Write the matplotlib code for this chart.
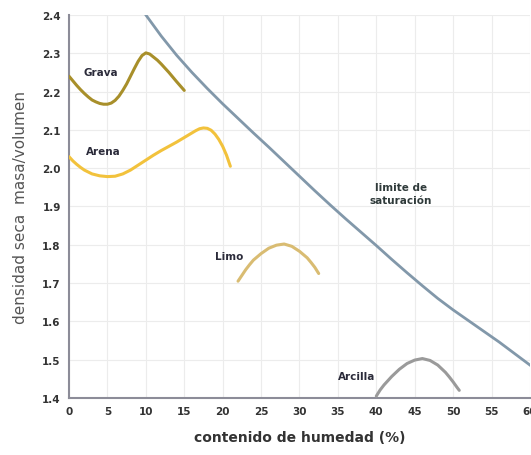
import matplotlib
matplotlib.use("Agg")
import matplotlib.pyplot as plt

# Curvas de compactacion
grava_x = [0, 0.5, 1, 1.5, 2, 2.5, 3, 3.5, 4, 4.5, 5, 5.5, 6, 6.5, 7, 7.5, 8,
           8.5, 9, 9.5, 10, 10.5, 11, 11.5, 12, 13, 14, 15]
grava_y = [2.24, 2.228, 2.216, 2.205, 2.195, 2.186, 2.178, 2.173, 2.169, 2.167,
           2.167, 2.17, 2.177, 2.188, 2.203, 2.22, 2.24, 2.26, 2.279, 2.294,
           2.301, 2.298, 2.29, 2.282, 2.272, 2.25, 2.226, 2.203]

arena_x = [0, 0.5, 1, 1.5, 2, 3, 4, 5, 6, 7, 8, 9, 10, 11, 12, 13, 14, 15, 16,
           16.5, 17, 17.5, 18, 18.5, 19, 19.5, 20, 20.5, 21]
arena_y = [2.03, 2.019, 2.01, 2.002, 1.995, 1.985, 1.98, 1.978, 1.979, 1.985,
           1.995, 2.008, 2.021, 2.034, 2.046, 2.057, 2.068, 2.08, 2.092, 2.098,
           2.103, 2.105, 2.104, 2.099, 2.089, 2.075, 2.057, 2.034, 2.005]

limo_x = [22, 22.5, 23, 23.5, 24, 25, 26, 27, 28, 29, 30, 31, 31.5, 32, 32.5]
limo_y = [1.705, 1.72, 1.735, 1.748, 1.76, 1.777, 1.791, 1.799, 1.802, 1.796,
          1.783, 1.766, 1.754, 1.741, 1.725]

arcilla_x = [40, 40.5, 41, 42, 43, 44, 45, 46, 47, 48, 49, 49.5, 50, 50.5, 50.8]
arcilla_y = [1.405, 1.421, 1.434, 1.456, 1.475, 1.49, 1.499, 1.503, 1.498,
             1.486, 1.467, 1.455, 1.442, 1.428, 1.42]

sat_x = [10, 12, 14, 16, 18, 20, 22, 24, 26, 28, 30, 32, 34, 36, 38, 40, 42,
         44, 46, 48, 50, 52, 54, 56, 58, 60]
sat_y = [2.40, 2.345, 2.295, 2.25, 2.208, 2.168, 2.13, 2.092, 2.055, 2.017,
         1.979, 1.941, 1.904, 1.868, 1.833, 1.798, 1.762, 1.727, 1.693, 1.66,
         1.63, 1.602, 1.574, 1.546, 1.516, 1.486]

x_ticks = [0, 5, 10, 15, 20, 25, 30, 35, 40, 45, 50, 55, 60]
y_ticks = [1.4, 1.5, 1.6, 1.7, 1.8, 1.9, 2.0, 2.1, 2.2, 2.3, 2.4]

fig = plt.figure(figsize=(5.31, 4.56), dpi=100)
ax = fig.add_axes([0.130, 0.125, 0.868, 0.84])

line = dict(lw=2.2, solid_capstyle='round', solid_joinstyle='round', zorder=4)
ax.plot(sat_x, sat_y, color='#8298aa', lw=2.0, solid_joinstyle='round', zorder=3)
ax.plot(grava_x, grava_y, color='#a88f2a', **line)
ax.plot(arena_x, arena_y, color='#f2c23c', **line)
ax.plot(limo_x, limo_y, color='#d9bc72', **line)
ax.plot(arcilla_x, arcilla_y, color='#9a9a9a', **line)

lab = dict(fontsize=7.5, fontweight='bold', color='#2b2b3a', ha='center', va='center')
ax.text(4.2, 2.252, 'Grava', **lab)
ax.text(4.5, 2.046, 'Arena', **lab)
ax.text(20.9, 1.77, 'Limo', **lab)
ax.text(37.5, 1.457, 'Arcilla', **lab)
ax.text(43.2, 1.934, 'limite de\nsaturación', fontsize=7.5, fontweight='bold',
        color='#2f3a3a', ha='center', va='center', linespacing=1.3)

ax.set_xlim(0, 60)
ax.set_ylim(1.4, 2.4)
ax.set_xticks(x_ticks)
ax.set_yticks(y_ticks)
ax.set_xticklabels([str(t) for t in x_ticks])
ax.set_yticklabels([f'{t:.1f}' for t in y_ticks])
ax.tick_params(length=0, labelsize=7.5, labelcolor='#333333', pad=6)
for t in ax.get_xticklabels() + ax.get_yticklabels():
    t.set_fontweight('bold')

ax.grid(True, color='#ececec', lw=0.8)
ax.set_axisbelow(True)
for s in ['top', 'right']:
    ax.spines[s].set_visible(False)
for s in ['left', 'bottom']:
    ax.spines[s].set_color('#8c8c98')
    ax.spines[s].set_linewidth(1.5)

ax.set_xlabel('contenido de humedad (%)', fontsize=10, fontweight='bold',
              color='#333333', labelpad=10)
ax.set_ylabel('densidad seca  masa/volumen', fontsize=11, color='#555555',
              labelpad=10)

fig.savefig('out.png', dpi=100)
